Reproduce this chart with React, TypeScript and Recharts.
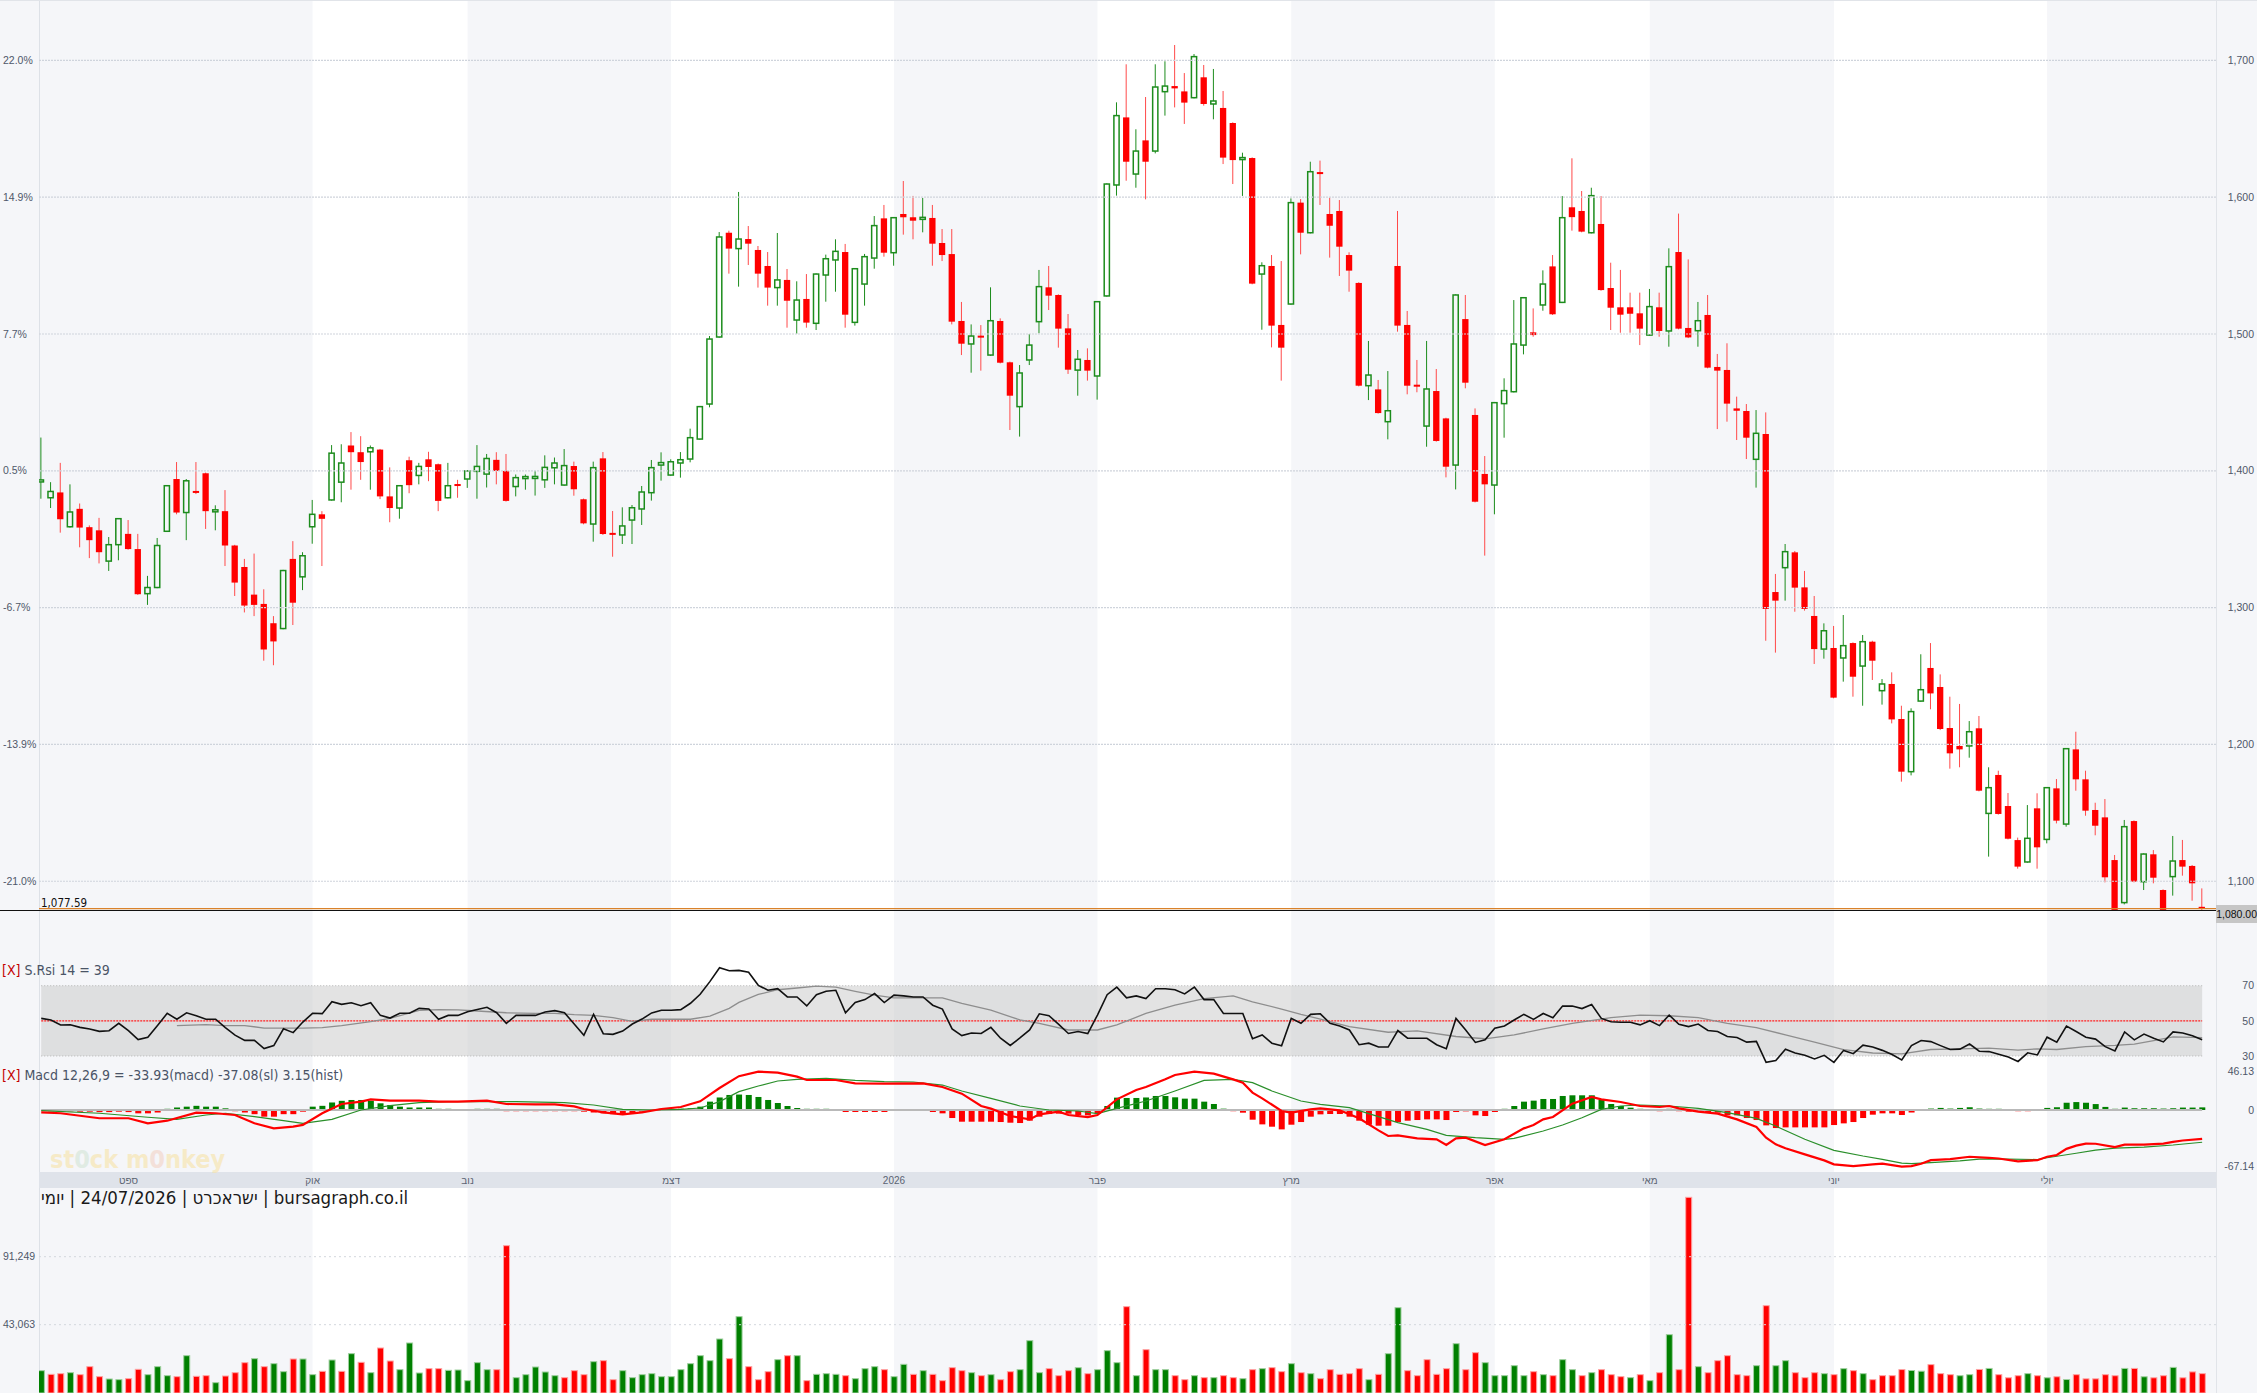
import React from 'react';
import {
  ComposedChart,
  Bar,
  Line,
  XAxis,
  YAxis,
  ReferenceArea,
  ReferenceLine,
} from 'recharts';

if (typeof document !== 'undefined') document.body.style.margin = '0';

// ---------- data ----------
const OPEN = [
  1392.2, 1380.3, 1384.2, 1359.1, 1372.2, 1358.8, 1356.5, 1334.0, 1346.0, 1353.9,
  1342.8, 1310.2, 1314.7, 1355.8, 1394.0, 1369.5, 1385.2, 1398.2, 1370.5, 1370.5,
  1345.4, 1329.7, 1309.5, 1302.7, 1288.6, 1284.7, 1335.6, 1322.5, 1359.1, 1368.2,
  1378.7, 1391.7, 1418.5, 1413.6, 1413.9, 1415.5, 1381.3, 1372.8, 1407.7, 1396.6,
  1408.4, 1404.8, 1380.3, 1389.8, 1394.0, 1399.6, 1397.6, 1408.0, 1399.9, 1388.5,
  1394.8, 1394.8, 1393.4, 1402.2, 1389.6, 1403.5, 1379.2, 1361.1, 1409.1, 1354.2,
  1353.1, 1364.0, 1372.1, 1384.0, 1404.2, 1396.9, 1405.7, 1408.6, 1423.2, 1448.8,
  1497.8, 1574.0, 1562.4, 1569.4, 1561.4, 1549.7, 1533.9, 1539.5, 1510.2, 1525.6,
  1507.8, 1543.1, 1554.1, 1559.9, 1508.5, 1536.5, 1555.5, 1584.5, 1559.4, 1587.7,
  1585.3, 1584.3, 1584.8, 1566.5, 1558.4, 1509.5, 1492.7, 1498.5, 1484.6, 1509.5,
  1479.3, 1446.9, 1481.0, 1509.0, 1534.1, 1528.5, 1504.1, 1473.6, 1481.0, 1469.3,
  1527.8, 1608.9, 1658.3, 1616.9, 1641.5, 1633.7, 1677.1, 1681.2, 1677.3, 1672.7,
  1687.6, 1668.1, 1665.2, 1654.2, 1628.0, 1628.6, 1543.8, 1549.7, 1506.6, 1521.9,
  1596.0, 1574.0, 1618.0, 1587.7, 1589.9, 1557.7, 1537.3, 1462.2, 1459.5, 1435.9,
  1549.7, 1506.6, 1462.4, 1432.7, 1458.3, 1438.3, 1404.2, 1510.9, 1440.8, 1397.7,
  1389.6, 1449.1, 1457.8, 1491.9, 1501.2, 1521.2, 1549.4, 1523.1, 1592.6, 1589.9,
  1574.0, 1580.4, 1533.6, 1519.5, 1519.5, 1515.1, 1499.2, 1519.5, 1502.2, 1559.9,
  1504.4, 1502.4, 1513.9, 1475.9, 1473.7, 1445.6, 1443.7, 1408.4, 1426.9, 1311.4,
  1329.2, 1340.4, 1314.8, 1293.9, 1269.7, 1270.5, 1263.2, 1274.1, 1257.3, 1275.1,
  1239.3, 1244.2, 1218.6, 1180.1, 1231.7, 1255.9, 1242.0, 1212.0, 1198.9, 1198.9,
  1211.8, 1149.6, 1177.7, 1155.0, 1130.1, 1114.1, 1153.3, 1130.6, 1167.9, 1141.8,
  1196.4, 1174.5, 1152.1, 1146.7, 1115.5, 1084.4, 1144.0, 1099.7, 1119.7, 1093.6,
  1103.4, 1115.5, 1111.2, 1081.2,
];

const HIGH = [
  1424.3, 1391.7, 1405.8, 1390.1, 1376.1, 1360.1, 1365.6, 1351.6, 1365.5, 1364.0,
  1353.9, 1323.2, 1350.9, 1389.6, 1406.4, 1394.0, 1406.4, 1398.7, 1374.8, 1385.9,
  1345.9, 1335.6, 1339.5, 1313.4, 1293.8, 1327.6, 1348.6, 1340.5, 1378.7, 1370.5,
  1418.8, 1419.4, 1428.3, 1425.3, 1418.5, 1416.0, 1402.5, 1389.6, 1410.3, 1405.8,
  1413.9, 1405.3, 1405.8, 1393.4, 1400.4, 1418.8, 1412.3, 1413.6, 1412.3, 1397.3,
  1397.3, 1399.9, 1411.3, 1409.7, 1415.9, 1406.7, 1379.7, 1406.7, 1413.7, 1370.6,
  1373.3, 1375.0, 1388.9, 1407.9, 1413.5, 1408.4, 1413.7, 1430.8, 1447.4, 1498.5,
  1574.5, 1575.5, 1603.8, 1578.9, 1564.3, 1559.9, 1573.8, 1547.5, 1538.5, 1543.8,
  1544.3, 1558.0, 1569.2, 1565.8, 1548.2, 1558.5, 1586.2, 1594.3, 1585.5, 1611.8,
  1600.9, 1599.4, 1594.3, 1576.7, 1576.7, 1523.4, 1507.0, 1506.5, 1534.1, 1511.4,
  1479.8, 1477.3, 1500.0, 1546.8, 1549.7, 1529.0, 1514.6, 1488.3, 1489.5, 1524.1,
  1610.1, 1669.3, 1697.1, 1649.6, 1673.2, 1697.1, 1699.3, 1711.2, 1690.7, 1704.6,
  1696.6, 1693.7, 1677.6, 1654.7, 1632.5, 1629.1, 1552.4, 1557.7, 1553.3, 1599.1,
  1598.6, 1625.9, 1626.7, 1599.6, 1597.9, 1559.7, 1537.8, 1494.9, 1466.4, 1472.9,
  1589.9, 1516.8, 1481.0, 1494.9, 1474.4, 1438.8, 1529.0, 1528.5, 1445.6, 1410.8,
  1450.3, 1467.6, 1524.8, 1527.0, 1518.7, 1546.5, 1557.7, 1600.8, 1628.4, 1604.5,
  1606.9, 1600.8, 1552.1, 1546.8, 1530.2, 1530.2, 1532.9, 1530.2, 1562.6, 1588.0,
  1554.5, 1523.4, 1528.5, 1485.4, 1493.2, 1454.2, 1448.8, 1444.4, 1442.7, 1324.6,
  1346.5, 1341.4, 1326.8, 1308.5, 1288.5, 1286.6, 1294.6, 1274.6, 1280.0, 1275.8,
  1247.8, 1252.7, 1228.3, 1226.4, 1265.9, 1274.1, 1251.2, 1234.9, 1229.6, 1217.1,
  1220.8, 1183.3, 1180.8, 1164.5, 1131.9, 1155.7, 1164.3, 1168.9, 1174.7, 1197.4,
  1209.3, 1180.8, 1157.4, 1160.1, 1119.2, 1144.8, 1144.5, 1120.4, 1122.8, 1094.1,
  1133.1, 1130.2, 1111.9, 1094.8,
];

const LOW = [
  1379.6, 1372.8, 1354.8, 1358.5, 1344.1, 1336.2, 1332.3, 1326.8, 1334.6, 1342.3,
  1309.3, 1302.0, 1314.2, 1355.3, 1368.2, 1349.3, 1383.0, 1357.5, 1356.5, 1330.4,
  1308.5, 1296.5, 1293.8, 1261.2, 1257.9, 1284.2, 1287.3, 1312.8, 1346.7, 1330.4,
  1378.2, 1377.0, 1386.2, 1393.4, 1386.2, 1379.3, 1362.4, 1365.0, 1383.6, 1390.1,
  1392.4, 1370.5, 1379.8, 1380.3, 1387.5, 1379.6, 1387.8, 1390.1, 1377.5, 1381.3,
  1386.2, 1381.9, 1387.5, 1390.1, 1389.1, 1381.8, 1360.9, 1348.2, 1353.1, 1337.2,
  1346.5, 1346.5, 1360.4, 1378.2, 1392.8, 1396.4, 1395.0, 1406.2, 1422.7, 1446.4,
  1497.3, 1544.1, 1534.6, 1550.4, 1533.9, 1520.7, 1520.7, 1504.6, 1500.2, 1504.6,
  1502.9, 1523.6, 1530.9, 1504.6, 1506.1, 1520.7, 1547.7, 1556.5, 1549.9, 1572.6,
  1569.2, 1574.3, 1549.9, 1553.3, 1507.0, 1484.6, 1471.7, 1473.2, 1484.1, 1478.5,
  1429.8, 1425.0, 1477.3, 1500.5, 1517.5, 1490.0, 1470.8, 1454.9, 1465.9, 1452.0,
  1527.3, 1601.1, 1612.0, 1606.9, 1598.4, 1632.0, 1659.6, 1665.6, 1653.5, 1672.2,
  1666.9, 1656.9, 1624.2, 1609.6, 1600.9, 1536.3, 1503.1, 1490.2, 1465.9, 1521.4,
  1558.2, 1573.5, 1594.3, 1555.8, 1542.4, 1530.9, 1461.7, 1451.7, 1441.8, 1423.0,
  1501.7, 1455.9, 1457.4, 1417.6, 1421.3, 1395.2, 1386.4, 1460.3, 1376.9, 1338.0,
  1368.2, 1424.2, 1457.3, 1485.1, 1498.0, 1517.0, 1513.9, 1522.6, 1575.5, 1574.3,
  1573.5, 1531.6, 1502.9, 1500.9, 1500.9, 1491.9, 1498.7, 1498.0, 1490.7, 1503.4,
  1497.0, 1490.7, 1474.9, 1430.5, 1435.9, 1422.5, 1408.6, 1387.7, 1275.8, 1267.1,
  1305.1, 1297.0, 1297.8, 1258.8, 1262.7, 1233.7, 1245.9, 1234.9, 1228.3, 1247.1,
  1229.1, 1215.4, 1172.8, 1177.4, 1231.2, 1225.7, 1210.5, 1182.3, 1183.3, 1190.3,
  1165.7, 1118.0, 1148.7, 1130.6, 1109.2, 1113.6, 1109.2, 1127.7, 1142.3, 1139.9,
  1166.2, 1147.9, 1133.6, 1099.2, 1068.0, 1083.1, 1099.2, 1093.6, 1098.5, 1070.0,
  1089.5, 1104.1, 1085.8, 1074.1,
];

const CLOSE = [
  1393.0, 1384.9, 1364.6, 1369.9, 1358.5, 1349.3, 1340.5, 1346.0, 1365.0, 1342.8,
  1309.8, 1314.7, 1345.4, 1389.1, 1369.5, 1392.7, 1383.9, 1370.5, 1371.0, 1345.4,
  1318.3, 1301.5, 1302.0, 1269.4, 1275.3, 1327.1, 1303.6, 1337.9, 1368.2, 1364.9,
  1412.9, 1405.7, 1413.6, 1406.4, 1416.8, 1381.3, 1372.8, 1389.1, 1389.5, 1403.2,
  1402.8, 1378.0, 1389.1, 1389.4, 1399.9, 1403.2, 1409.0, 1399.9, 1378.0, 1395.0,
  1395.3, 1395.5, 1402.5, 1405.7, 1403.8, 1386.5, 1361.6, 1402.3, 1353.8, 1353.6,
  1359.7, 1373.0, 1384.5, 1402.3, 1406.0, 1406.6, 1408.1, 1424.2, 1446.9, 1496.3,
  1570.9, 1562.4, 1569.4, 1566.0, 1544.1, 1533.9, 1539.5, 1524.3, 1524.8, 1508.3,
  1543.8, 1555.0, 1560.4, 1514.1, 1547.7, 1556.5, 1579.2, 1559.4, 1585.0, 1585.3,
  1582.8, 1584.7, 1566.0, 1557.7, 1509.0, 1492.9, 1498.5, 1497.6, 1509.7, 1479.0,
  1454.9, 1471.5, 1491.9, 1534.6, 1528.0, 1503.9, 1473.9, 1481.5, 1473.2, 1523.6,
  1609.6, 1659.6, 1625.9, 1633.7, 1625.9, 1680.5, 1681.2, 1679.5, 1669.1, 1702.7,
  1668.1, 1670.3, 1628.9, 1627.1, 1628.4, 1536.8, 1549.9, 1506.1, 1490.0, 1596.0,
  1574.0, 1618.6, 1617.2, 1579.1, 1563.8, 1546.3, 1462.2, 1470.0, 1442.2, 1443.9,
  1506.1, 1462.2, 1462.0, 1459.8, 1421.8, 1403.0, 1528.5, 1464.4, 1377.4, 1390.1,
  1449.8, 1458.6, 1492.7, 1526.5, 1499.2, 1536.5, 1514.4, 1585.0, 1585.4, 1574.8,
  1601.1, 1532.1, 1519.2, 1514.1, 1514.8, 1503.9, 1520.0, 1502.2, 1549.2, 1503.9,
  1497.5, 1509.7, 1475.4, 1473.2, 1449.1, 1443.9, 1424.2, 1427.4, 1299.0, 1305.1,
  1340.9, 1314.6, 1299.0, 1269.7, 1283.1, 1234.2, 1272.2, 1249.5, 1275.1, 1261.2,
  1244.2, 1218.3, 1180.1, 1224.0, 1240.0, 1237.3, 1211.3, 1193.5, 1196.4, 1209.3,
  1166.2, 1168.4, 1149.2, 1131.1, 1110.7, 1131.4, 1124.8, 1168.4, 1144.3, 1196.9,
  1174.5, 1151.6, 1140.6, 1102.9, 1072.0, 1139.9, 1099.7, 1119.9, 1102.6, 1072.0,
  1114.8, 1110.7, 1098.5, 1080.0,
];

const VOLUME = [
  10490, 7890, 8370, 9070, 7660, 13330, 6240, 4590, 4120, 4820,
  11440, 7660, 13330, 6950, 6240, 21120, 6480, 6950, 1990, 6710,
  9070, 16160, 18990, 13330, 15450, 9780, 18760, 18760, 7660, 10020,
  18050, 10020, 22540, 16400, 9070, 26550, 17340, 11200, 30100, 8840,
  11910, 11910, 10730, 10960, 3410, 16160, 11200, 11200, 99070, 5530,
  7660, 13090, 9550, 6950, 5530, 10490, 7660, 16870, 17580, 4120,
  10490, 5530, 7660, 8370, 6240, 6240, 11200, 15450, 21120, 17580,
  32930, 18990, 48760, 13330, 4110, 9780, 18290, 21120, 21120, 3410,
  7890, 8370, 7890, 6950, 4820, 11910, 13330, 11200, 6240, 14980,
  7890, 10490, 7890, 3410, 12620, 10490, 9070, 6950, 7660, 4110,
  9780, 11200, 31750, 9070, 11910, 6950, 10490, 12620, 8370, 11200,
  24660, 16160, 55840, 6950, 25370, 11200, 11200, 6950, 4110, 6950,
  5530, 5530, 6950, 5530, 4820, 11200, 11910, 12620, 9780, 15450,
  9070, 8370, 4820, 11200, 7890, 8370, 11910, 4110, 7890, 22540,
  55130, 10490, 6950, 18290, 7890, 11910, 29620, 11200, 23250, 16160,
  6950, 6950, 14030, 6950, 9780, 7660, 6950, 18290, 11200, 6950,
  9070, 11200, 7660, 6240, 5530, 7660, 3410, 9070, 36000, 11200,
  133320, 13330, 9070, 17580, 21120, 7660, 6950, 14030, 56550, 14030,
  17580, 9070, 5530, 9070, 8370, 7660, 11910, 10490, 8370, 4110,
  6950, 6950, 11270, 10600, 10110, 14770, 8390, 7650, 6920, 7650,
  11340, 12070, 7650, 5450, 6920, 8390, 6920, 5450, 6180, 4220,
  7650, 4710, 4710, 7650, 6920, 12070, 12070, 6180, 5450, 6920,
  12810, 5450, 9620, 8390,
];

const RSI = [
  51.4, 50.5, 47.6, 47.8, 46.3, 45.4, 44.0, 44.4, 48.6, 44.4,
  39.3, 40.6, 47.3, 54.3, 50.9, 54.6, 52.9, 50.9, 50.9, 46.1,
  41.9, 38.9, 38.9, 34.2, 35.9, 45.5, 43.3, 49.3, 54.3, 54.1,
  60.9, 59.4, 60.3, 58.6, 60.3, 53.1, 51.6, 54.3, 54.3, 57.1,
  56.7, 50.9, 53.1, 53.1, 55.2, 56.5, 57.7, 54.6, 48.6, 53.1,
  53.1, 53.1, 55.0, 55.8, 54.6, 48.2, 41.8, 53.7, 42.7, 42.3,
  44.2, 48.2, 51.0, 54.5, 56.0, 56.0, 56.4, 60.0, 65.1, 72.3,
  80.2, 78.5, 78.7, 77.7, 70.2, 67.4, 68.3, 63.6, 63.6, 58.5,
  64.9, 66.8, 67.4, 54.6, 60.4, 62.1, 65.5, 60.4, 64.6, 64.2,
  63.6, 63.6, 58.9, 56.7, 45.4, 41.6, 43.1, 42.8, 46.3, 40.1,
  36.0, 40.3, 44.8, 54.0, 52.9, 48.0, 42.8, 43.9, 42.8, 53.3,
  64.9, 69.2, 63.1, 64.2, 62.7, 68.3, 68.3, 67.7, 65.3, 69.2,
  62.1, 62.1, 54.2, 54.2, 54.2, 39.8, 42.0, 37.3, 35.8, 51.4,
  48.6, 53.7, 54.0, 48.6, 47.1, 44.8, 36.4, 37.3, 35.1, 35.1,
  44.5, 40.1, 40.1, 40.1, 36.4, 34.1, 51.4, 44.8, 37.7, 39.2,
  45.8, 47.1, 50.5, 53.7, 50.8, 54.2, 51.8, 58.4, 58.4, 57.0,
  59.3, 51.4, 49.5, 49.2, 49.2, 47.7, 50.1, 47.3, 53.3, 48.0,
  46.7, 48.2, 44.5, 43.9, 41.1, 40.5, 37.9, 38.3, 26.4, 27.4,
  33.8, 31.7, 30.4, 28.3, 30.4, 26.4, 33.2, 31.3, 36.2, 35.1,
  33.2, 30.8, 27.8, 35.9, 38.8, 38.2, 35.9, 33.7, 33.9, 36.8,
  32.7, 32.5, 31.0, 29.4, 26.9, 31.8, 30.6, 40.7, 37.8, 47.0,
  43.9, 40.7, 39.6, 35.3, 32.9, 43.7, 39.2, 42.5, 40.1, 38.0,
  43.7, 43.1, 41.5, 39.2,
];

// [candle index, value]
const RSI_AVG: [number, number][] = [
  [14, 47.3], [17, 47.8], [19, 47.3], [21, 47.3], [23, 45.9], [27, 45.9], [29, 46.1],
  [31, 47.3], [34, 49.5], [36, 51.4], [39, 56.0], [41, 56.4], [43, 56.2], [45, 55.6],
  [48, 54.6], [51, 54.3], [53, 54.2], [55, 53.5], [57, 53.1], [59, 51.8], [61, 49.7],
  [63, 50.9], [65, 50.9], [67, 50.9], [69, 52.7], [71, 57.1], [72, 60.5], [74, 65.0],
  [76, 67.7], [78, 68.7], [80, 69.8], [82, 69.2], [84, 66.8], [86, 64.6], [88, 63.1],
  [93, 63.1], [95, 59.9], [98, 56.1], [101, 50.5], [103, 48.6], [106, 44.8], [109, 44.8],
  [111, 47.7], [114, 54.2], [117, 58.9], [120, 62.7], [123, 64.2], [125, 60.8], [128, 56.7],
  [130, 53.7], [132, 51.0], [135, 46.7], [139, 43.5], [142, 44.3], [146, 41.1], [149, 39.8],
  [152, 42.0], [155, 45.4], [158, 48.6], [162, 51.8], [165, 53.3], [168, 52.9], [171, 51.8],
  [174, 48.6], [177, 46.2], [180, 42.0], [183, 37.9], [186, 33.6], [189, 31.7], [192, 31.2],
  [195, 33.7], [198, 34.0], [201, 34.5], [204, 33.3], [206, 34.1], [208, 33.7], [211, 35.3],
  [214, 36.0], [216, 36.8], [218, 38.8], [220, 40.9], [223, 40.5],
];

const MACD_LINE: [number, number][] = [
  [0, -2.8], [2, -3.9], [6, -9.9], [9, -9.9], [11, -15.9], [13, -12.8], [16, -3.2],
  [18, -3.9], [20, -6], [22, -15.9], [24, -21.9], [26, -19.9], [27, -17.9], [29, -3.9],
  [31, 7.2], [33, 10], [34, 12.8], [36, 11.2], [39, 11.2], [41, 10], [43, 10], [46, 11.2],
  [48, 7.2], [51, 6.8], [53, 6.8], [55, 4.4], [56, 1.2], [58, -2.8], [60, -5.2], [62, -2.8],
  [64, 1.2], [66, 3.6], [68, 10.4], [70, 26.3], [72, 40.5], [74, 45.9], [76, 44.7],
  [78, 39.9], [79, 35.9], [82, 35.9], [84, 31.9], [87, 31.5], [91, 31.9], [93, 27.5],
  [95, 19.6], [97, 4.8], [98, 1.6], [100, -7.2], [102, -11.2], [103, -5.2], [105, -2],
  [106, -6], [108, -8.4], [109, -6], [111, 12.8], [113, 24], [114, 27.5], [116, 36.7],
  [117, 41.9], [119, 45.9], [121, 43.5], [123, 36.7], [124, 32.7], [125, 20.8], [126, 14],
  [128, -1.2], [129, -3.2], [131, 0.8], [132, 2], [134, -0.4], [136, -10], [138, -24.4],
  [139, -31.1], [140, -30.3], [142, -33.9], [144, -35.1], [145, -41.9], [146, -33.9],
  [147, -33.1], [149, -41.9], [151, -35.1], [153, -22], [154, -18], [155, -11.2], [156, -8.4],
  [158, 7.6], [160, 15.6], [161, 12.8], [163, 9.6], [165, 4.8], [167, 3.6], [168, 4.8],
  [169, 2], [171, -2], [173, -4.4], [175, -11.2], [177, -20.4], [178, -33.1], [179, -41.1],
  [180, -45.9], [182, -53.1], [184, -60.3], [185, -65.1], [187, -67.1], [189, -65.1],
  [190, -64.3], [192, -67.8], [193, -67.2], [194, -64.3], [195, -60.1], [197, -58.9],
  [199, -56], [201, -57.2], [202, -58.1], [204, -61.4], [206, -60.1], [207, -56], [208, -53.9],
  [209, -46.5], [210, -42.7], [211, -40.2], [212, -40.4], [214, -44.4], [215, -41.5],
  [217, -41.5], [219, -40.2], [220, -38.2], [221, -36.5], [223, -34.5],
];

const SIGNAL_LINE: [number, number][] = [
  [0, -0.8], [6, -3.9], [11, -8.7], [14, -11.2], [17, -6], [19, -3.9], [22, -7.9],
  [25, -12.8], [27, -15.9], [30, -11.2], [33, 0], [36, 5.2], [39, 8.8], [42, 10], [46, 10],
  [49, 10], [54, 8.8], [57, 6], [60, 0.8], [63, 0], [66, 0.8], [68, 2.4], [70, 10], [72, 22],
  [74, 28.7], [76, 34.7], [78, 36.7], [81, 37.9], [84, 35.5], [87, 33.9], [90, 33.5],
  [93, 29.9], [95, 22.8], [98, 14], [101, 4.8], [104, 0], [107, -1.2], [109, -4.4], [111, 2],
  [114, 10.8], [117, 22.8], [120, 35.5], [123, 36.7], [125, 32.7], [127, 22.8], [130, 10.8],
  [132, 6.8], [135, 2.8], [137, -4.4], [140, -15.2], [143, -23.2], [145, -30.3], [148, -33.1],
  [151, -35.1], [152, -33.9], [155, -25.1], [157, -18], [159, -9.2], [161, 0.8], [163, 4.8],
  [165, 6], [168, 4.8], [171, 2], [174, -3.2], [177, -10], [179, -19.2], [182, -35.1],
  [185, -48.3], [188, -55.1], [190, -59.1], [192, -63.5], [193, -64.3], [195, -63], [198, -61],
  [200, -58.9], [203, -58.9], [206, -59.3], [207, -57.2], [210, -51.8], [212, -48.1],
  [214, -45.6], [217, -44.4], [220, -41.9], [223, -38.6],
];

const HIST = [
  0, -1, -1.5, -1.5, -2, -2, -2.5, -2.5, -2, -2.5,
  -4, -4, -3, 1, 3, 4, 5, 4, 4, 2,
  -1, -3, -5, -8, -8, -5, -5, -2, 4, 5,
  9, 11, 12, 12, 11, 8, 6, 4, 3, 3,
  3, 1, 0.5, 0, 0, 0.5, 0.5, 0.5, -0.5, -0.5,
  -0.8, -0.8, -0.8, -0.8, -1, -1, -2, -3, -4, -5,
  -5, -4, -2, 0, 1, 1, 1.5, 2, 4, 10,
  15, 18, 18.5, 18, 15.6, 12, 8.4, 4.8, 2.4, 0.3,
  0.3, 0.2, 0, -2.4, -2.4, -2.4, -2.4, -2.4, 0, 0,
  0, 0, -2.4, -4, -9.6, -14, -14, -14, -14, -14.4,
  -15.2, -15.6, -12.8, -8, -4.8, -4.4, -4.4, -6, -6.4, -4.4,
  4.8, 14.8, 14.4, 14.4, 15, 16.8, 16.8, 15.2, 13.6, 13.6,
  10, 7.2, 1.6, -1.2, -3.2, -11.6, -17.2, -20, -23.2, -17.6,
  -14.4, -8, -5.2, -4.8, -4.8, -8, -12.8, -17.6, -18.8, -18.8,
  -14.4, -12.8, -12, -11.2, -11.2, -12, -2.4, -1.6, -6.4, -7.2,
  -2.4, 0.8, 4.8, 10, 11.2, 13.2, 13.2, 16.8, 17.6, 17.6,
  17.6, 12, 7.2, 4.8, 2.8, 0.8, 0, -1.2, 0.4, -0.8,
  -2, -2.4, -2.4, -3.2, -6.4, -6.4, -9.6, -12, -18.4, -21.6,
  -20.8, -20.8, -20.8, -20.8, -20.8, -18, -16, -14.4, -9.6, -5.6,
  -4, -4, -6, -3, 0, 1.7, 2.5, 1.7, 2.5, 3.3,
  1.7, 1.2, 0.4, 0, -1, -1, 0, 2.5, 3.3, 8.7,
  9.5, 8.7, 7.1, 3.7, 1.2, 2.9, 2.1, 2.1, 2.1, 1.7,
  2.1, 2.9, 2.9, 3.15,
];

const MONTH_LABELS = ['ספט', 'אוק', 'נוב', 'דצמ', '2026', 'פבר', 'מרץ', 'אפר', 'מאי', 'יוני', 'יולי'];
const MONTH_START = [9, 28, 44, 65, 88, 109, 129, 150, 166, 185, 207];

const PRICE_TICKS = [1100, 1200, 1300, 1400, 1500, 1600, 1700];
const PCT_LABELS = ['-21.0%', '-13.9%', '-6.7%', '0.5%', '7.7%', '14.9%', '22.0%'];
const RSI_TICKS = [30, 50, 70];
const MACD_TICKS = [-67.14, 0, 46.13];
const VOL_TICKS = [43063, 91249];
const LAST_PRICE = 1080;
const FLOOR_LABEL = '1,077.59';

const RSI_TEXT = 'S.Rsi 14 = 39';
const MACD_TEXT = 'Macd 12,26,9 = -33.93(macd) -37.08(sl) 3.15(hist)';

// ---------- layout ----------
const W = 2257;
const H = 1393;
const LEFT = 39;
const RIGHT = 41;
const X_DOMAIN: [number, number] = [-0.23, 224.43];

const PRICE_H = 910;
const PRICE_DOMAIN: [number, number] = [1079.0, 1744.1];
const RSI_TOP = 950;
const RSI_H = 120;
const RSI_DOMAIN: [number, number] = [22.03, 90.31];
const MACD_TOP = 1060;
const MACD_H = 128;
const AXIS_H = 16;
const MACD_DOMAIN: [number, number] = [-74.23, 59.87];
const VOL_TOP = 1190;
const VOL_H = 203;
const VOL_DOMAIN: [number, number] = [-5335, 138511];

const PAGE_BG = '#f5f6f9';
const UP = '#1c8c1c';
const DOWN = '#ff0000';
const AXIS_FONT = '"Liberation Sans", Arial, sans-serif';
const NARROW = '"Liberation Sans Narrow", "Arial Narrow", "DejaVu Sans Condensed", sans-serif';
const AXIS_COLOR = '#4f5869';

const rows = OPEN.map((o, i) => ({
  i,
  o,
  h: HIGH[i],
  l: LOW[i],
  c: CLOSE[i],
  vol: VOLUME[i],
  volUp: i === 0 || CLOSE[i] >= CLOSE[i - 1],
  rsi: RSI[i],
  hist: HIST[i],
}));
const toRows = (pts: [number, number][]) => pts.map(([i, v]) => ({ i, v }));
const rsiAvgRows = toRows(RSI_AVG);
const macdRows = toRows(MACD_LINE);
const signalRows = toRows(SIGNAL_LINE);

const lastIdx = rows.length - 1;
const whiteBands = MONTH_START.map((s, k) => [s, MONTH_START[k + 1] ?? X_DOMAIN[1]])
  .filter((_, k) => k % 2 === 1);

const fmtThousands = (v: number) => v.toLocaleString('en-US');

const span = (p: any) => {
  const top = Math.min(p.y, p.y + p.height);
  const bottom = Math.max(p.y, p.y + p.height);
  return { top, bottom, cx: p.x + p.width / 2 };
};

const Candle = (p: any) => {
  const d = p.payload;
  if (!d || !Number.isFinite(p.x) || !Number.isFinite(p.y)) return <g />;
  const { top, bottom, cx } = span(p);
  const k = (bottom - top) / (d.h - d.l);
  const yOf = (v: number) => top + (d.h - v) * k;
  let b0 = Math.min(yOf(d.o), yOf(d.c));
  let b1 = Math.max(yOf(d.o), yOf(d.c));
  if (b1 - b0 < 2) {
    const m = (b0 + b1) / 2;
    b0 = m - 1;
    b1 = m + 1;
  }
  if (d.c >= d.o) {
    return (
      <g>
        <line x1={cx} x2={cx} y1={top} y2={b0} stroke={UP} strokeWidth={1} />
        <line x1={cx} x2={cx} y1={b1} y2={bottom} stroke={UP} strokeWidth={1} />
        <rect x={cx - 2.6} y={b0} width={5.2} height={b1 - b0} fill="none" stroke={UP} strokeWidth={1.5} />
      </g>
    );
  }
  return (
    <g>
      <line x1={cx} x2={cx} y1={top} y2={bottom} stroke="#ff4a4a" strokeWidth={1} />
      <rect x={cx - 3.15} y={b0} width={6.3} height={b1 - b0} fill={DOWN} />
    </g>
  );
};

const VolumeBar = (p: any) => {
  const d = p.payload;
  if (!d || !Number.isFinite(p.x)) return <g />;
  const { top, bottom, cx } = span(p);
  return (
    <rect
      x={cx - 3}
      y={top}
      width={6}
      height={bottom - top}
      fill={d.volUp ? '#008000' : '#ff0000'}
      stroke={d.volUp ? '#9fd09f' : '#ffa3a3'}
      strokeWidth={1}
    />
  );
};

const HistBar = (p: any) => {
  const d = p.payload;
  if (!d || !Number.isFinite(p.x) || d.hist === 0) return <g />;
  const { top, bottom, cx } = span(p);
  const h = Math.max(bottom - top, 1.2);
  const y = d.hist > 0 ? bottom - h : top;
  return <rect x={cx - 3} y={y} width={6} height={h} fill={d.hist > 0 ? '#008000' : '#ff0000'} />;
};

const rightTick = (fmt: (v: number) => string) => (p: any) => (
  <text x={W - 3} y={p.y} dy="0.35em" textAnchor="end" fontSize={10.5} fontFamily={AXIS_FONT} fill={AXIS_COLOR}>
    {fmt(p.payload.value)}
  </text>
);

const leftTick = (fmt: (v: number) => string) => (p: any) => (
  <text x={3} y={p.y} dy="0.35em" textAnchor="start" fontSize={10.5} fontFamily={AXIS_FONT} fill={AXIS_COLOR}>
    {fmt(p.payload.value)}
  </text>
);

const monthTick = (p: any) => {
  const k = MONTH_START.indexOf(p.payload.value);
  return (
    <text x={p.x} y={MACD_H - AXIS_H / 2} dy="0.35em" textAnchor="middle" fontSize={10} fontFamily={AXIS_FONT} fill="#5b6372">
      {MONTH_LABELS[k]}
    </text>
  );
};

const layer = (top: number, height: number): React.CSSProperties => ({
  position: 'absolute',
  left: 0,
  top,
  width: W,
  height,
});

const xAxis = <XAxis type="number" dataKey="i" domain={X_DOMAIN} hide allowDataOverflow />;

const Label = ({ top, text }: { top: number; text: string }) => (
  <div
    style={{
      position: 'absolute',
      left: 2,
      top: top - 9,
      fontFamily: NARROW,
      fontSize: 14,
      lineHeight: '18px',
      color: '#4a5466',
      whiteSpace: 'nowrap',
    }}
  >
    <span style={{ color: '#c40000' }}>[X]</span> {text}
  </div>
);

export default function App() {
  return (
    <div style={{ position: 'relative', width: W, height: H, overflow: 'hidden', background: PAGE_BG }}>
      {/* month shading */}
      <div style={layer(0, H)}>
        <ComposedChart width={W} height={H} data={rows} margin={{ top: 0, right: RIGHT, bottom: 0, left: LEFT }}>
          {xAxis}
          <YAxis domain={[0, 100]} hide allowDataOverflow />
          <Line dataKey="rsi" stroke="none" strokeOpacity={0} dot={false} activeDot={false} isAnimationActive={false} />
          {whiteBands.map(([a, b]) => (
            <ReferenceArea
              key={a}
              x1={a}
              x2={b}
              y1={0}
              y2={100}
              fill="#ffffff"
              fillOpacity={1}
              stroke="none"
              ifOverflow="visible"
            />
          ))}
        </ComposedChart>
      </div>

      <div style={{ position: 'absolute', left: LEFT, top: 0, width: 1, height: H, background: '#dde1e7' }} />
      <div style={{ position: 'absolute', left: W - RIGHT, top: 0, width: 1, height: H, background: '#e1e4e9' }} />
      <div style={{ position: 'absolute', left: 0, top: 0, width: W, height: 1, background: '#e1e4e9' }} />
      <div style={{ position: 'absolute', left: LEFT, top: MACD_TOP + MACD_H - AXIS_H, width: W - LEFT - RIGHT, height: AXIS_H, background: '#dfe3ea' }} />

      {/* price */}
      <div style={layer(0, PRICE_H)}>
        <ComposedChart width={W} height={PRICE_H} data={rows} margin={{ top: 0, right: 0, bottom: 0, left: 0 }}>
          {xAxis}
          <YAxis
            yAxisId="pct"
            orientation="left"
            width={LEFT}
            domain={PRICE_DOMAIN}
            ticks={PRICE_TICKS}
            interval={0}
            allowDataOverflow
            axisLine={false}
            tickLine={false}
            tick={leftTick((v) => PCT_LABELS[PRICE_TICKS.indexOf(v)])}
          />
          <YAxis
            yAxisId="px"
            orientation="right"
            width={RIGHT}
            domain={PRICE_DOMAIN}
            ticks={PRICE_TICKS}
            interval={0}
            allowDataOverflow
            axisLine={false}
            tickLine={false}
            tick={rightTick(fmtThousands)}
          />
          {PRICE_TICKS.map((t) => (
            <ReferenceLine key={t} yAxisId="px" y={t} stroke="#cfd4dc" strokeWidth={1.2} strokeDasharray="2 1" />
          ))}
          <Bar yAxisId="px" dataKey={(d: any) => [d.l, d.h]} barSize={7} shape={Candle} isAnimationActive={false} />
          <ReferenceLine yAxisId="px" y={LAST_PRICE} stroke="#d9822b" strokeWidth={1.2} />
        </ComposedChart>
      </div>
      <div style={{ position: 'absolute', left: 0, top: PRICE_H - 0.5, width: W - RIGHT, height: 1.5, background: '#111' }} />
      <div
        style={{
          position: 'absolute',
          left: 41,
          top: 897,
          fontFamily: NARROW,
          fontSize: 11.5,
          lineHeight: '12px',
          color: '#111',
        }}
      >
        {FLOOR_LABEL}
      </div>
      <div
        style={{
          position: 'absolute',
          left: W - RIGHT,
          top: 905,
          width: RIGHT,
          height: 18,
          background: '#c6c6c6',
          fontFamily: AXIS_FONT,
          fontSize: 10.5,
          lineHeight: '18px',
          color: '#111',
          textAlign: 'right',
          whiteSpace: 'nowrap',
        }}
      >
        {LAST_PRICE.toLocaleString('en-US', { minimumFractionDigits: 2 })}
      </div>

      {/* RSI */}
      <div style={layer(RSI_TOP, RSI_H)}>
        <ComposedChart width={W} height={RSI_H} data={rows} margin={{ top: 0, right: 0, bottom: 0, left: LEFT }}>
          {xAxis}
          <YAxis
            orientation="right"
            width={RIGHT}
            domain={RSI_DOMAIN}
            ticks={RSI_TICKS}
            interval={0}
            allowDataOverflow
            axisLine={false}
            tickLine={false}
            tick={rightTick((v) => String(v))}
          />
          <ReferenceArea x1={0} x2={lastIdx} y1={30} y2={70} fill="#c8c8c8" fillOpacity={0.5} stroke="none" />
          <ReferenceLine segment={[{ x: 0, y: 70 }, { x: lastIdx, y: 70 }]} stroke="#b5b5b5" strokeDasharray="1 2" />
          <ReferenceLine segment={[{ x: 0, y: 30 }, { x: lastIdx, y: 30 }]} stroke="#b5b5b5" strokeDasharray="1 2" />
          <ReferenceLine segment={[{ x: 0, y: 50 }, { x: lastIdx, y: 50 }]} stroke="#ff2020" strokeWidth={1.3} strokeDasharray="2 1" />
          <Line data={rsiAvgRows} dataKey="v" stroke="#8e8e8e" strokeWidth={1.3} dot={false} isAnimationActive={false} />
          <Line dataKey="rsi" stroke="#111111" strokeWidth={1.6} dot={false} isAnimationActive={false} />
        </ComposedChart>
      </div>

      {/* MACD */}
      <div style={layer(MACD_TOP, MACD_H)}>
        <ComposedChart width={W} height={MACD_H} data={rows} margin={{ top: 0, right: 0, bottom: 0, left: LEFT }}>
          <XAxis
            type="number"
            dataKey="i"
            domain={X_DOMAIN}
            allowDataOverflow
            height={AXIS_H}
            ticks={MONTH_START}
            interval={0}
            axisLine={false}
            tickLine={false}
            tick={monthTick}
          />
          <YAxis
            orientation="right"
            width={RIGHT}
            domain={MACD_DOMAIN}
            ticks={MACD_TICKS}
            interval={0}
            allowDataOverflow
            axisLine={false}
            tickLine={false}
            tick={rightTick((v) => String(v))}
          />
          <ReferenceLine segment={[{ x: 0, y: 0 }, { x: lastIdx, y: 0 }]} stroke="#b9b9b9" strokeWidth={2} />
          <Bar dataKey="hist" barSize={6} shape={HistBar} isAnimationActive={false} />
          <Line data={signalRows} dataKey="v" stroke="#2a8f2a" strokeWidth={1.2} dot={false} isAnimationActive={false} />
          <Line data={macdRows} dataKey="v" stroke="#ff0000" strokeWidth={2.2} dot={false} isAnimationActive={false} />
        </ComposedChart>
      </div>

      {/* volume */}
      <div style={layer(VOL_TOP, VOL_H)}>
        <ComposedChart width={W} height={VOL_H} data={rows} margin={{ top: 0, right: RIGHT, bottom: 0, left: 0 }}>
          {xAxis}
          <YAxis
            orientation="left"
            width={LEFT}
            domain={VOL_DOMAIN}
            ticks={VOL_TICKS}
            interval={0}
            allowDataOverflow
            axisLine={false}
            tickLine={false}
            tick={leftTick(fmtThousands)}
          />
          {VOL_TICKS.map((t) => (
            <ReferenceLine key={t} y={t} stroke="#d3d7dd" strokeDasharray="2 3" />
          ))}
          <Bar dataKey={(d: any) => [VOL_DOMAIN[0], d.vol]} barSize={6} shape={VolumeBar} isAnimationActive={false} />
        </ComposedChart>
      </div>

      <Label top={970} text={RSI_TEXT} />
      <Label top={1075} text={MACD_TEXT} />

      <div
        style={{
          position: 'absolute',
          left: 50,
          top: 1146,
          fontFamily: NARROW,
          fontWeight: 700,
          fontSize: 25,
          lineHeight: '28px',
          color: '#f7e2a0',
          opacity: 0.55,
          whiteSpace: 'nowrap',
        }}
      >
        st<span style={{ color: '#cfe3d2' }}>0</span>ck m<span style={{ color: '#f3cfc0' }}>0</span>nkey
      </div>

      <div
        style={{
          position: 'absolute',
          left: 41,
          top: 1187,
          fontFamily: NARROW,
          fontSize: 18.5,
          lineHeight: '22px',
          color: '#1a1a1a',
          whiteSpace: 'nowrap',
          direction: 'ltr',
        }}
      >
        <span style={{ unicodeBidi: 'isolate' }}>יומי</span> | 24/07/2026 |{' '}
        <span style={{ unicodeBidi: 'isolate' }}>ישראכרט</span> | bursagraph.co.il
      </div>
    </div>
  );
}
